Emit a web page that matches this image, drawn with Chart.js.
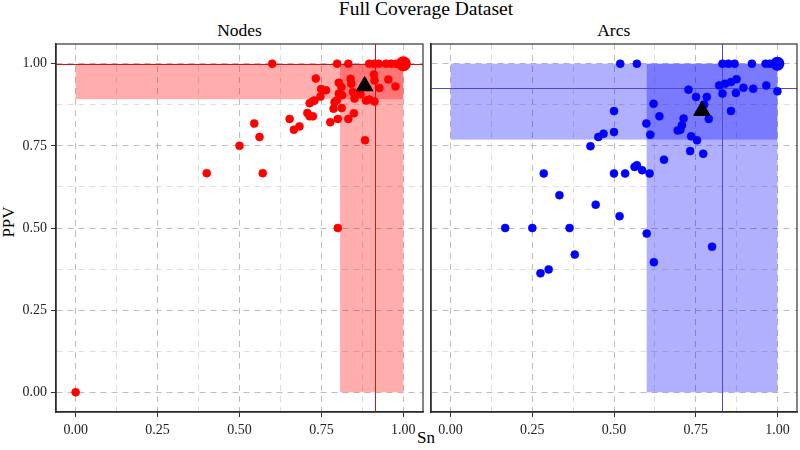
<!DOCTYPE html>
<html>
<head>
<meta charset="utf-8">
<script src="https://cdn.jsdelivr.net/npm/chart.js@4.4.1/dist/chart.umd.min.js"></script>
<style>
  body { margin: 0; background: #fff; }
  #wrap { position: relative; width: 800px; height: 450px; background: #fff; font-family: "Liberation Serif", serif; color: #000; overflow: hidden; }
  #wrap canvas { position: absolute; top: 0; }
  .lbl { position: absolute; white-space: nowrap; line-height: 1; }
</style>
</head>
<body>
<div id="wrap">
  <div class="lbl" style="left:426px; top:-1px; font-size:19.5px; transform:translateX(-50%);">Full Coverage Dataset</div>
  <div class="lbl" style="left:239.5px; top:22px; font-size:17.5px; transform:translateX(-50%);">Nodes</div>
  <div class="lbl" style="left:613.7px; top:22px; font-size:17.5px; transform:translateX(-50%);">Arcs</div>
  <div class="lbl" style="left:426px; top:429px; font-size:17px; transform:translateX(-50%);">Sn</div>
  <div class="lbl" style="left:8px; top:222px; font-size:17px; transform:translate(-50%,-50%) rotate(-90deg);">PPV</div>
  <canvas id="nodesChart" width="424" height="450" style="left:0px;"></canvas>
  <canvas id="arcsChart" width="370" height="450" style="left:430px;"></canvas>
</div>
<script>
// tick labels (both axes share them)
const tickValues = [0, 0.25, 0.5, 0.75, 1];
const tickLabels = ['0.00', '0.25', '0.50', '0.75', '1.00'];
const minorValues = [0.125, 0.375, 0.625, 0.875];

// Nodes panel
const nodesSn = [0, 0.4, 0.5, 0.545, 0.561, 0.571, 0.6, 0.8, 0.883, 0.653, 0.666, 0.683, 0.707, 0.714, 0.724,
  0.714, 0.724, 0.729, 0.733, 0.747, 0.749, 0.764, 0.777, 0.787, 0.79, 0.797, 0.8, 0.798, 0.803, 0.803,
  0.811, 0.812, 0.813, 0.832, 0.832, 0.839, 0.841, 0.846, 0.849, 0.851, 0.869, 0.886, 0.896, 0.896, 0.912,
  0.925, 0.91, 0.912, 0.912, 0.927, 0.947, 0.963, 0.978, 0.954, 0.976];
const nodesPPV = [0, 0.667, 0.75, 0.818, 0.777, 0.667, 1, 0.5, 0.767, 0.832, 0.799, 0.809, 0.85, 0.84, 0.84,
  0.88, 0.886, 0.888, 0.955, 0.9, 0.923, 0.919, 0.822, 0.863, 0.883, 0.888, 0.832, 1, 0.942, 0.909,
  0.929, 0.865, 0.904, 1, 0.832, 0.954, 0.939, 0.914, 0.849, 0.894, 0.907, 0.888, 0.891, 1, 1,
  1, 0.967, 0.949, 0.885, 0.926, 1, 1, 1, 0.952, 0.931];
const nodesPerfect = [1, 1];           // Sn, PPV of the large point
const nodesMean = [0.882, 0.932];      // Sn, PPV of the triangle
const nodesSnBand = [0.807, 1];
const nodesPPVBand = [0.892, 1];
const nodesMedian = [0.914, 1];

// Arcs panel
const arcsSn = [0.519, 0.57, 0.832, 0.85, 0.869, 0.922, 0.964, 0.977, 0.822, 0.84, 0.858, 0.875, 0.896, 0.926,
  0.966, 1, 0.873, 0.832, 0.728, 0.751, 0.784, 0.776, 0.79, 0.858, 0.621, 0.639, 0.599, 0.611, 0.5, 0.5,
  0.468, 0.452, 0.428, 0.713, 0.708, 0.703, 0.695, 0.736, 0.754, 0.733, 0.773, 0.653, 0.563, 0.57, 0.586,
  0.609, 0.5, 0.534, 0.285, 0.333, 0.444, 0.517, 0.167, 0.25, 0.364, 0.6, 0.8, 0.38, 0.622, 0.3, 0.275];
const arcsPPV = [1, 1, 1, 1, 1, 1, 1, 1, 0.934, 0.939, 0.944, 0.953, 0.927, 0.924,
  0.934, 0.916, 0.911, 0.909, 0.921, 0.899, 0.899, 0.876, 0.832, 0.856, 0.878, 0.84, 0.818, 0.784, 0.856, 0.792,
  0.787, 0.777, 0.749, 0.833, 0.813, 0.799, 0.797, 0.779, 0.767, 0.734, 0.726, 0.708, 0.686, 0.691, 0.676,
  0.666, 0.666, 0.666, 0.666, 0.6, 0.571, 0.536, 0.5, 0.5, 0.5, 0.483, 0.443, 0.419, 0.396, 0.374, 0.362];
const arcsPerfect = [1, 1];
const arcsMean = [0.769, 0.857];
const arcsSnBand = [0.6, 1];
const arcsPPVBand = [0.769, 1];
const arcsMedian = [0.832, 0.926];

const FONT = "'Liberation Serif', serif";

function pairs(xs, ys) {
  return xs.map((v, i) => ({ x: v, y: ys[i] }));
}

// shaded quantile bands + median lines behind the points, frame on top
const bandsPlugin = {
  id: 'bands',
  beforeDatasetsDraw(chart, args, opts) {
    const { ctx, chartArea: a, scales: { x, y } } = chart;
    ctx.save();
    ctx.beginPath();
    ctx.rect(a.left, a.top, a.width, a.height);
    ctx.clip();
    ctx.fillStyle = opts.fill;
    const x0 = x.getPixelForValue(0), x1 = x.getPixelForValue(1);
    const y0 = y.getPixelForValue(0), y1 = y.getPixelForValue(1);
    // PPV band across all Sn
    const pTop = y.getPixelForValue(opts.ppv[1]), pBot = y.getPixelForValue(opts.ppv[0]);
    ctx.fillRect(x0, pTop, x1 - x0, pBot - pTop);
    // Sn band across all PPV
    const sL = x.getPixelForValue(opts.sn[0]), sR = x.getPixelForValue(opts.sn[1]);
    ctx.fillRect(sL, y1, sR - sL, y0 - y1);
    // medians
    ctx.strokeStyle = opts.line;
    ctx.lineWidth = 1;
    const mx = Math.round(x.getPixelForValue(opts.median[0])) + 0.5;
    const my = Math.round(y.getPixelForValue(opts.median[1])) + 0.5;
    ctx.beginPath();
    ctx.moveTo(mx, a.top); ctx.lineTo(mx, a.bottom);
    ctx.moveTo(a.left, my); ctx.lineTo(a.right, my);
    ctx.stroke();
    ctx.restore();
  },
  afterDraw(chart) {
    const { ctx, chartArea: a } = chart;
    ctx.save();
    ctx.strokeStyle = '#333';
    ctx.lineWidth = 1.2;
    ctx.strokeRect(a.left, a.top, a.width, a.height);
    ctx.restore();
  }
};

function gridColor(c) {
  return tickValues.includes(c.tick.value) ? '#bdbdbd' : '#dedede';
}

function axis(showLabels, isY, fitSize) {
  return {
    type: 'linear',
    min: -0.06,
    max: 1.06,
    afterBuildTicks: s => {
      s.ticks = tickValues.concat(minorValues).sort((p, q) => p - q).map(v => ({ value: v }));
    },
    afterFit: s => { if (isY) s.width = fitSize; else s.height = fitSize; },
    grid: {
      color: gridColor,
      lineWidth: 1,
      drawTicks: showLabels,
      tickLength: 5,
      tickWidth: 1,
      tickColor: c => tickValues.includes(c.tick.value) ? '#333' : 'rgba(0,0,0,0)'
    },
    border: { display: true, color: '#222', width: 1.5, dash: [6, 5] },
    ticks: {
      display: showLabels,
      autoSkip: false,
      maxRotation: 0,
      padding: isY ? 4 : 5,
      color: '#222',
      font: { family: FONT, size: 14 },
      callback: v => { const i = tickValues.indexOf(v); return i >= 0 ? tickLabels[i] : ''; }
    }
  };
}

function makeChart(id, cfg) {
  return new Chart(document.getElementById(id), {
    type: 'scatter',
    data: {
      datasets: [
        {
          label: 'mean',
          data: [{ x: cfg.mean[0], y: cfg.mean[1] }],
          pointStyle: 'triangle',
          pointRadius: 9.5,
          backgroundColor: '#000',
          borderColor: '#000',
          borderWidth: 1
        },
        {
          label: 'perfect',
          data: [{ x: cfg.perfect[0], y: cfg.perfect[1] }],
          pointRadius: cfg.bigRadius,
          backgroundColor: cfg.color,
          borderColor: cfg.color,
          borderWidth: 0
        },
        {
          label: 'files',
          data: pairs(cfg.sn, cfg.ppv),
          pointRadius: 4,
          backgroundColor: cfg.color,
          borderColor: cfg.color,
          borderWidth: 0.6
        }
      ]
    },
    options: {
      responsive: false,
      animation: false,
      layout: { autoPadding: false, padding: cfg.padding },
      plugins: {
        legend: { display: false },
        tooltip: { enabled: false },
        bands: {
          sn: cfg.snBand,
          ppv: cfg.ppvBand,
          median: cfg.median,
          fill: cfg.fill,
          line: cfg.line
        }
      },
      scales: {
        x: axis(true, false, 38),
        y: axis(cfg.yLabels, true, cfg.yWidth)
      }
    },
    plugins: [bandsPlugin]
  });
}

makeChart('nodesChart', {
  sn: nodesSn, ppv: nodesPPV, perfect: nodesPerfect, mean: nodesMean,
  snBand: nodesSnBand, ppvBand: nodesPPVBand, median: nodesMedian,
  color: '#ff0000', fill: 'rgba(255,0,0,0.32)', line: '#c41a1a', bigRadius: 7.5,
  yLabels: true, yWidth: 56, padding: { top: 44, right: 1, left: 0, bottom: 0 }
});

makeChart('arcsChart', {
  sn: arcsSn, ppv: arcsPPV, perfect: arcsPerfect, mean: arcsMean,
  snBand: arcsSnBand, ppvBand: arcsPPVBand, median: arcsMedian,
  color: '#0000ff', fill: 'rgba(0,0,255,0.31)', line: '#4b4bd2', bigRadius: 7,
  yLabels: false, yWidth: 1, padding: { top: 44, right: 3, left: 0, bottom: 0 }
});
</script>
</body>
</html>
